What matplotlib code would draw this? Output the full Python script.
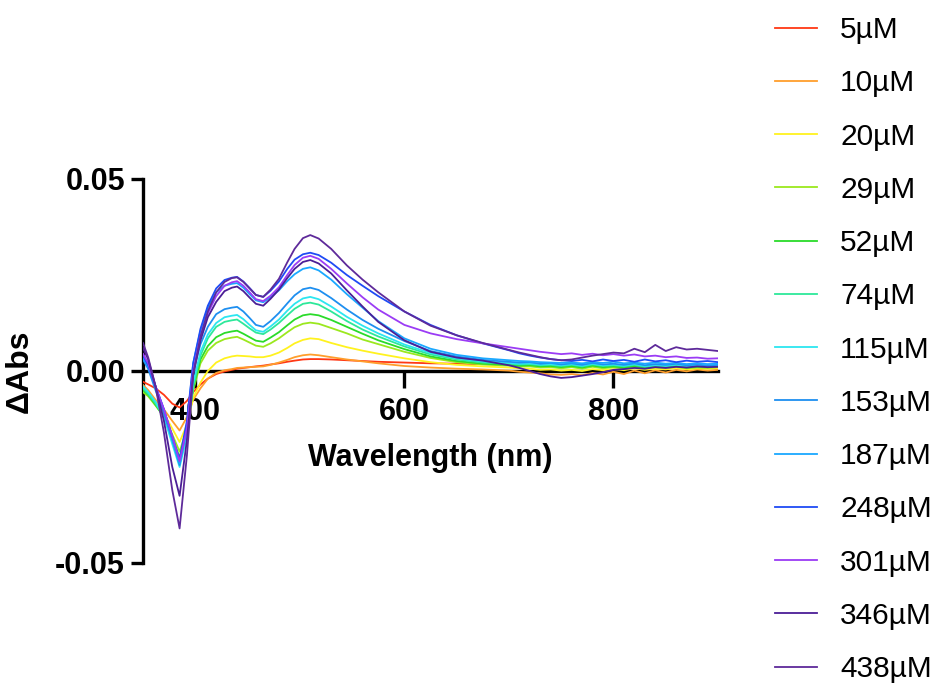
import matplotlib
matplotlib.use('Agg')
import matplotlib.pyplot as plt

plt.rcParams['font.family'] = ['Liberation Sans', 'DejaVu Sans']

# wavelength grid (nm)
wavelength = [350, 355, 362, 370, 378, 385, 392, 398, 405, 412,
              420, 428, 435, 440, 446, 452, 458, 465, 472, 480,
              488, 495, 503, 510, 518, 530, 545, 560, 575,
              600, 625, 650, 675,
              700, 710, 720, 730, 740, 750, 760, 770, 780, 790, 800,
              810, 820, 830, 840, 850, 860, 870, 880, 890, 900]

conc_labels = ['5µM', '10µM', '20µM', '29µM', '52µM', '74µM', '115µM',
               '153µM', '187µM', '248µM', '301µM', '346µM', '438µM']

colors = ['#FF3814', '#FF9E2C', '#FFF21F', '#9BE81E', '#2ADB2A', '#2DE89A', '#2CE6F0',
          '#1E8FF0', '#1AA8FF', '#1F4BF5', '#9B3CF5', '#4B1E96', '#5E2A9A']

# difference absorbance for each concentration
abs_5uM = [-0.0028, -0.0035, -0.0045, -0.0062, -0.0085, -0.0095, -0.0078, -0.0055, -0.0035, -0.0020,
           -0.0008, -0.0001, 0.0003, 0.0006, 0.0008, 0.0010, 0.0012, 0.0014, 0.0017, 0.0020,
           0.0024, 0.0027, 0.0030, 0.0031, 0.0031, 0.0030, 0.0028, 0.0026, 0.0024,
           0.0022, 0.0020, 0.0019, 0.0018,
           0.0016, 0.0015, 0.0016, 0.0013, 0.0015, 0.0011, 0.0014, 0.0010, 0.0016, 0.0009, 0.0015,
           0.0010, 0.0017, 0.0011, 0.0015, 0.0010, 0.0014, 0.0011, 0.0013, 0.0010, 0.0012]
abs_10uM = [-0.0036, -0.0050, -0.0075, -0.0100, -0.0130, -0.0155, -0.0120, -0.0075, -0.0045, -0.0020,
            -0.0005, 0.0002, 0.0005, 0.0008, 0.0009, 0.0010, 0.0011, 0.0012, 0.0016, 0.0022,
            0.0029, 0.0036, 0.0041, 0.0043, 0.0041, 0.0036, 0.0030, 0.0025, 0.0020,
            0.0013, 0.0009, 0.0006, 0.0004,
            0.0001, -0.0002, -0.0004, -0.0006, -0.0009, -0.0010, -0.0008, -0.0011, -0.0005, -0.0009, -0.0002,
            -0.0008, 0.0001, -0.0006, 0.0002, -0.0004, 0.0003, -0.0001, 0.0004, 0.0001, 0.0003]
abs_20uM = [-0.0050, -0.0060, -0.0080, -0.0110, -0.0150, -0.0185, -0.0140, -0.0070, -0.0030, 0.0000,
            0.0022, 0.0033, 0.0038, 0.0040, 0.0039, 0.0038, 0.0036, 0.0036, 0.0040, 0.0048,
            0.0060, 0.0072, 0.0081, 0.0085, 0.0083, 0.0073, 0.0062, 0.0053, 0.0045,
            0.0033, 0.0023, 0.0016, 0.0012,
            0.0009, 0.0007, 0.0006, 0.0003, 0.0004, 0.0001, 0.0003, 0.0000, 0.0005, 0.0002, 0.0005,
            0.0002, 0.0007, 0.0003, 0.0006, 0.0004, 0.0008, 0.0004, 0.0007, 0.0006, 0.0008]
abs_29uM = [-0.0055, -0.0066, -0.0090, -0.0118, -0.0165, -0.0210, -0.0150, -0.0050, 0.0020, 0.0053,
            0.0073, 0.0083, 0.0087, 0.0089, 0.0082, 0.0074, 0.0066, 0.0063, 0.0072, 0.0085,
            0.0101, 0.0114, 0.0123, 0.0126, 0.0123, 0.0112, 0.0098, 0.0082, 0.0070,
            0.0050, 0.0034, 0.0023, 0.0017,
            0.0014, 0.0012, 0.0012, 0.0009, 0.0010, 0.0007, 0.0010, 0.0006, 0.0011, 0.0007, 0.0010,
            0.0006, 0.0011, 0.0007, 0.0010, 0.0008, 0.0011, 0.0007, 0.0009, 0.0008, 0.0010]
abs_52uM = [-0.0050, -0.0062, -0.0088, -0.0120, -0.0175, -0.0225, -0.0155, -0.0045, 0.0030, 0.0065,
            0.0088, 0.0099, 0.0103, 0.0105, 0.0097, 0.0088, 0.0079, 0.0076, 0.0087, 0.0101,
            0.0119, 0.0134, 0.0145, 0.0148, 0.0145, 0.0133, 0.0115, 0.0097, 0.0080,
            0.0057, 0.0038, 0.0026, 0.0019,
            0.0016, 0.0014, 0.0015, 0.0012, 0.0013, 0.0010, 0.0013, 0.0009, 0.0014, 0.0010, 0.0012,
            0.0009, 0.0013, 0.0009, 0.0012, 0.0010, 0.0013, 0.0009, 0.0011, 0.0010, 0.0012]
abs_74uM = [-0.0045, -0.0060, -0.0085, -0.0120, -0.0180, -0.0230, -0.0160, -0.0040, 0.0040, 0.0085,
            0.0115, 0.0128, 0.0132, 0.0134, 0.0123, 0.0111, 0.0100, 0.0096, 0.0108, 0.0125,
            0.0145, 0.0162, 0.0175, 0.0178, 0.0173, 0.0155, 0.0130, 0.0108, 0.0090,
            0.0064, 0.0043, 0.0030, 0.0022,
            0.0019, 0.0017, 0.0018, 0.0015, 0.0016, 0.0013, 0.0016, 0.0012, 0.0017, 0.0013, 0.0015,
            0.0012, 0.0016, 0.0011, 0.0014, 0.0012, 0.0015, 0.0011, 0.0013, 0.0012, 0.0014]
abs_115uM = [-0.0040, -0.0055, -0.0080, -0.0120, -0.0190, -0.0250, -0.0170, -0.0030, 0.0050, 0.0095,
             0.0125, 0.0140, 0.0144, 0.0146, 0.0135, 0.0120, 0.0106, 0.0102, 0.0116, 0.0134,
             0.0157, 0.0175, 0.0189, 0.0193, 0.0187, 0.0168, 0.0141, 0.0118, 0.0098,
             0.0069, 0.0047, 0.0033, 0.0025,
             0.0021, 0.0019, 0.0020, 0.0017, 0.0018, 0.0015, 0.0018, 0.0014, 0.0019, 0.0015, 0.0017,
             0.0014, 0.0018, 0.0013, 0.0016, 0.0014, 0.0017, 0.0013, 0.0015, 0.0013, 0.0015]
abs_153uM = [0.0030, 0.0005, -0.0050, -0.0110, -0.0180, -0.0245, -0.0150, 0.0000, 0.0070, 0.0115,
             0.0148, 0.0161, 0.0165, 0.0167, 0.0155, 0.0138, 0.0120, 0.0115, 0.0130, 0.0151,
             0.0176, 0.0197, 0.0213, 0.0217, 0.0211, 0.0190, 0.0160, 0.0133, 0.0110,
             0.0078, 0.0052, 0.0038, 0.0029,
             0.0024, 0.0022, 0.0023, 0.0019, 0.0021, 0.0017, 0.0020, 0.0016, 0.0021, 0.0017, 0.0019,
             0.0016, 0.0020, 0.0015, 0.0018, 0.0016, 0.0019, 0.0015, 0.0017, 0.0014, 0.0016]
abs_187uM = [0.0035, 0.0012, -0.0040, -0.0100, -0.0175, -0.0240, -0.0140, 0.0020, 0.0105, 0.0165,
             0.0205, 0.0222, 0.0227, 0.0229, 0.0217, 0.0200, 0.0184, 0.0179, 0.0192, 0.0210,
             0.0234, 0.0252, 0.0266, 0.0270, 0.0262, 0.0238, 0.0200, 0.0165, 0.0130,
             0.0085, 0.0058, 0.0042, 0.0033,
             0.0028, 0.0026, 0.0025, 0.0023, 0.0022, 0.0021, 0.0022, 0.0020, 0.0023, 0.0021, 0.0024,
             0.0020, 0.0022, 0.0019, 0.0022, 0.0019, 0.0021, 0.0018, 0.0020, 0.0018, 0.0019]
abs_248uM = [0.0040, 0.0015, -0.0040, -0.0100, -0.0170, -0.0230, -0.0130, 0.0020, 0.0110, 0.0170,
             0.0215, 0.0237, 0.0243, 0.0245, 0.0233, 0.0216, 0.0198, 0.0193, 0.0209, 0.0233,
             0.0266, 0.0290, 0.0304, 0.0308, 0.0302, 0.0282, 0.0250, 0.0222, 0.0195,
             0.0155, 0.0120, 0.0093, 0.0072,
             0.0054, 0.0046, 0.0040, 0.0035, 0.0031, 0.0028, 0.0026, 0.0029, 0.0025, 0.0030, 0.0026,
             0.0029, 0.0024, 0.0030, 0.0025, 0.0028, 0.0023, 0.0027, 0.0024, 0.0026, 0.0023]
abs_301uM = [0.0045, 0.0020, -0.0040, -0.0100, -0.0170, -0.0235, -0.0150, 0.0000, 0.0090, 0.0150,
             0.0195, 0.0222, 0.0231, 0.0234, 0.0222, 0.0205, 0.0187, 0.0182, 0.0196, 0.0218,
             0.0250, 0.0276, 0.0295, 0.0300, 0.0292, 0.0266, 0.0228, 0.0192, 0.0160,
             0.0120, 0.0098, 0.0083, 0.0072,
             0.0062, 0.0058, 0.0054, 0.0050, 0.0047, 0.0044, 0.0046, 0.0042, 0.0045, 0.0041, 0.0044,
             0.0040, 0.0043, 0.0038, 0.0040, 0.0036, 0.0038, 0.0034, 0.0035, 0.0032, 0.0033]
abs_346uM = [0.0060, 0.0030, -0.0040, -0.0130, -0.0250, -0.0325, -0.0180, -0.0010, 0.0080, 0.0140,
             0.0180, 0.0208, 0.0217, 0.0220, 0.0208, 0.0191, 0.0175, 0.0170, 0.0188, 0.0212,
             0.0242, 0.0266, 0.0284, 0.0289, 0.0280, 0.0254, 0.0210, 0.0168, 0.0128,
             0.0080, 0.0050, 0.0035, 0.0027,
             0.0015, 0.0008, 0.0000, -0.0008, -0.0014, -0.0018, -0.0016, -0.0012, -0.0008, -0.0003, 0.0003,
             0.0005, 0.0008, 0.0006, 0.0010, 0.0008, 0.0011, 0.0009, 0.0012, 0.0010, 0.0011]
abs_438uM = [0.0073, 0.0035, -0.0040, -0.0160, -0.0310, -0.0410, -0.0220, -0.0010, 0.0090, 0.0155,
             0.0205, 0.0232, 0.0242, 0.0244, 0.0232, 0.0215, 0.0198, 0.0193, 0.0212, 0.0240,
             0.0283, 0.0318, 0.0346, 0.0354, 0.0345, 0.0318, 0.0275, 0.0238, 0.0205,
             0.0155, 0.0118, 0.0093, 0.0073,
             0.0055, 0.0048, 0.0042, 0.0036, 0.0031, 0.0028, 0.0030, 0.0035, 0.0040, 0.0044, 0.0048,
             0.0046, 0.0058, 0.0049, 0.0068, 0.0052, 0.0062, 0.0056, 0.0058, 0.0055, 0.0052]

x_ticks = [400, 600, 800]
y_ticks = [-0.05, 0.0, 0.05]
y_tick_labels = ['-0.05', '0.00', '0.05']

series = [abs_5uM, abs_10uM, abs_20uM, abs_29uM, abs_52uM, abs_74uM, abs_115uM,
          abs_153uM, abs_187uM, abs_248uM, abs_301uM, abs_346uM, abs_438uM]

fig = plt.figure(figsize=(9.38, 6.87), dpi=100)
ax = fig.add_axes([143 / 938, 1 - 563 / 687, 575 / 938, 384 / 687])

for y, lab, c in zip(series, conc_labels, colors):
    ax.plot(wavelength, y, color=c, lw=1.3, label=lab, zorder=3)

ax.set_xlim(350, 900)
ax.set_ylim(-0.05, 0.05)

# Prism-like axes: x axis sits on zero
ax.spines['top'].set_visible(False)
ax.spines['right'].set_visible(False)
ax.spines['bottom'].set_position(('data', 0))
ax.spines['left'].set_linewidth(2.4)
ax.spines['bottom'].set_linewidth(2.4)

ax.set_xticks(x_ticks)
ax.set_yticks(y_ticks)
ax.set_yticklabels(y_tick_labels)
ax.tick_params(axis='x', width=2.4, length=12, labelsize=22, pad=7)
ax.tick_params(axis='y', width=2.4, length=9, labelsize=22, pad=4)
for lbl in ax.get_xticklabels() + ax.get_yticklabels():
    lbl.set_fontweight('bold')

fig.text(20 / 938, 1 - 371 / 687, 'ΔAbs', rotation=90, ha='center', va='center',
         fontsize=23, fontweight='bold')
fig.text(430 / 938, 1 - 458 / 687, 'Wavelength (nm)', ha='center', va='center',
         fontsize=22, fontweight='bold')

ax.legend(loc='upper left', bbox_to_anchor=(775 / 938, 1 - 16 / 687),
          bbox_transform=fig.transFigure, frameon=False, fontsize=21.5,
          handlelength=1.41, handletextpad=0.77, labelspacing=0.846,
          borderpad=0, borderaxespad=0)

fig.savefig('out.png', dpi=100)
